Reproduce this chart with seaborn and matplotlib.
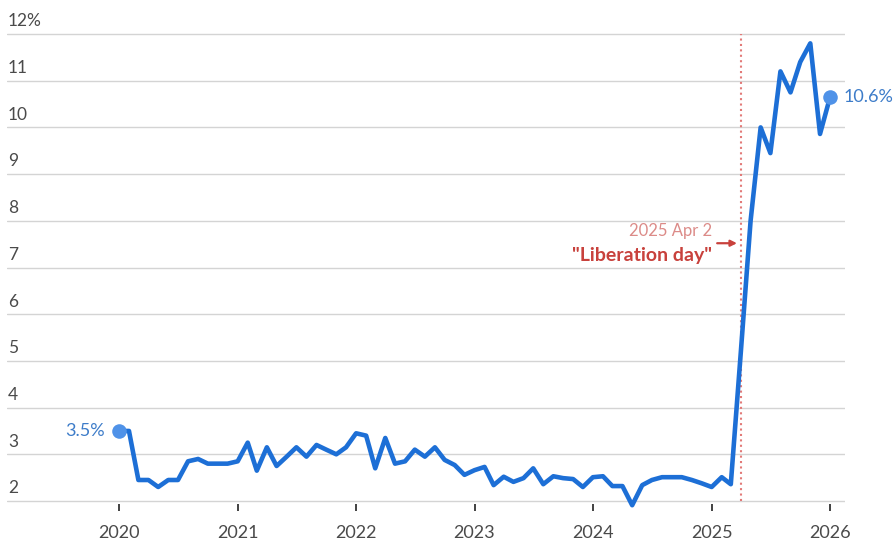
import pandas as pd
import numpy as np
import matplotlib
matplotlib.use('Agg')
import matplotlib.pyplot as plt
import matplotlib.dates as mdates
import matplotlib.transforms as mtransforms
import seaborn as sns

# monthly rate, Jan 2020 .. Jan 2026 (%)
start = '2020-01-01'
rate = [3.5, 3.5, 2.45, 2.45, 2.3, 2.45, 2.45, 2.85, 2.9, 2.8, 2.8, 2.8,
        2.85, 3.25, 2.65, 3.15, 2.75, 2.95, 3.15, 2.95, 3.2, 3.1, 3.0, 3.15,
        3.45, 3.4, 2.7, 3.35, 2.8, 2.85, 3.1, 2.95, 3.15, 2.88, 2.77, 2.56,
        2.66, 2.73, 2.34, 2.52, 2.41, 2.49, 2.7, 2.36, 2.53, 2.49, 2.47, 2.3,
        2.51, 2.53, 2.32, 2.32, 1.91, 2.34, 2.45, 2.51, 2.51, 2.51, 2.45, 2.38,
        2.3, 2.51, 2.36, 5.2, 8.0, 10.0, 9.45, 11.2, 10.75, 11.4, 11.8, 9.86,
        10.65]
yticks = list(range(2, 13))
ytick_labels = ['2', '3', '4', '5', '6', '7', '8', '9', '10', '11', '12%']
year_ticks = list(range(2020, 2027))
event_date = '2025-04-02'
event_label = '2025 Apr 2'
event_name = '"Liberation day"'
first_label = '3.5%'
last_label = '10.6%'

dates = pd.date_range(start, periods=len(rate), freq='MS')
df = pd.DataFrame({'date': dates, 'rate': rate})

sns.set_style('white')
plt.rcParams['font.family'] = ['Lato', 'DejaVu Sans']

LINE = '#1d6fd6'
DOT = '#4f92e8'
LABEL = '#3d7cc9'
RED = '#c8413c'
PINK = '#dc8b88'
GREY = '#4a4a4a'

fig = plt.figure(figsize=(8.94, 5.42), dpi=100)
ax = fig.add_axes([7/894, 1 - 504/542, 838/894, (504 - 20)/542])

for y in yticks:
    ax.axhline(y, color='#d4d4d4', lw=1, zorder=1)

ev = pd.Timestamp(event_date)
ax.plot([ev, ev], [2, 12], color='#e27a78', lw=1.5, ls=(0, (1, 1.6)), zorder=2)

sns.lineplot(data=df, x='date', y='rate', ax=ax, color=LINE, lw=3.3,
             solid_capstyle='round', solid_joinstyle='round', zorder=4,
             clip_on=False)

ends = df.iloc[[0, -1]]
ax.scatter(ends['date'], ends['rate'], s=110, color=DOT, zorder=5,
           clip_on=False, linewidths=0)
ax.annotate(first_label, (ends['date'].iloc[0], ends['rate'].iloc[0]),
            xytext=(-10, 0), textcoords='offset points', ha='right',
            va='center', color=LABEL, fontsize=13)
ax.annotate(last_label, (ends['date'].iloc[1], ends['rate'].iloc[1]),
            xytext=(10, 0), textcoords='offset points', ha='left',
            va='center', color=LABEL, fontsize=13, annotation_clip=False)

ax.text(pd.Timestamp('2025-01-03'), 7.78, event_label, ha='right',
        va='center', color=PINK, fontsize=12)
ax.text(pd.Timestamp('2025-01-03'), 7.25, event_name, ha='right',
        va='center', color=RED, fontsize=14, fontweight='bold')
ax.annotate('', xy=(pd.Timestamp('2025-03-20'), 7.52),
            xytext=(pd.Timestamp('2025-01-18'), 7.52),
            arrowprops=dict(arrowstyle='-|>', color=RED, lw=1.6,
                            mutation_scale=9, shrinkA=0, shrinkB=0))

ax.set_ylim(1.936, 12.3)
ax.set_xlim(pd.Timestamp('2019-01-21'), pd.Timestamp('2026-02-16'))

trans = mtransforms.blended_transform_factory(ax.transAxes, ax.transData)
for y, lab in zip(yticks, ytick_labels):
    ax.text(0.001, y + 0.1, lab, transform=trans, ha='left', va='bottom',
            color=GREY, fontsize=12.5)

ax.set_yticks([])
ax.set_xticks([pd.Timestamp(f'{y}-01-01') for y in year_ticks])
ax.set_xticklabels([str(y) for y in year_ticks])
ax.tick_params(axis='x', direction='out', length=5, width=1.3, color='#333333',
               pad=10, labelsize=13, labelcolor=GREY, bottom=True)
ax.set_xlabel('')
ax.set_ylabel('')
sns.despine(ax=ax, left=True, bottom=True)

fig.savefig('out.png', dpi=100)
plt.close()
